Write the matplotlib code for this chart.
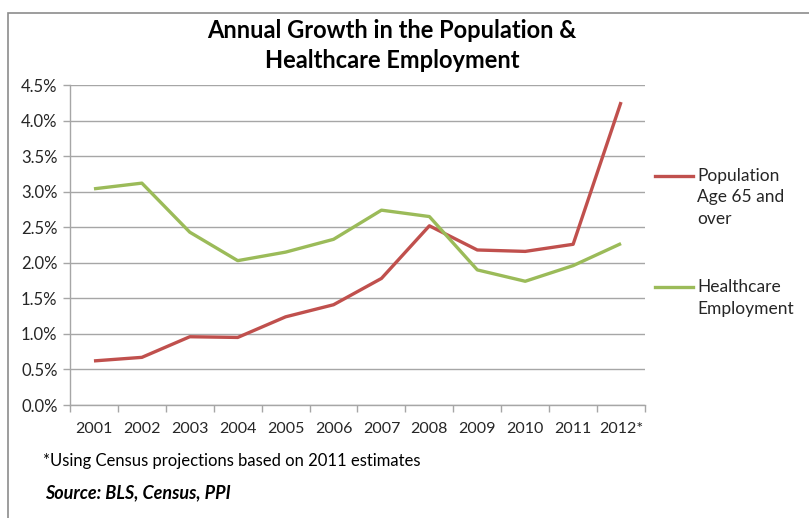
import matplotlib
matplotlib.use("Agg")
import matplotlib.pyplot as plt
from matplotlib.lines import Line2D
from matplotlib.patches import Rectangle
from matplotlib.ticker import FuncFormatter, MultipleLocator

plt.rcParams['font.family'] = ['Lato', 'DejaVu Sans']

years = ["2001", "2002", "2003", "2004", "2005", "2006", "2007", "2008",
         "2009", "2010", "2011", "2012*"]
population_65 = [0.62, 0.67, 0.96, 0.95, 1.24, 1.41, 1.78, 2.52, 2.18, 2.16, 2.26, 4.26]
healthcare_emp = [3.04, 3.12, 2.43, 2.03, 2.15, 2.33, 2.74, 2.65, 1.90, 1.74, 1.96, 2.27]

RED = "#C0504D"
GREEN = "#9BBB59"
GRID = "#A6A6A6"
TXT = "#262626"

fig = plt.figure(figsize=(8.09, 5.18), dpi=100)
W, H = 809, 518

# chart frame
fig.patches.append(Rectangle((8 / W, -0.1), 1.2, 1 - 13 / H + 0.1, transform=fig.transFigure,
                             fill=False, edgecolor="#8C8C8C", linewidth=1.2))

ax = fig.add_axes([70 / W, 1 - 405 / H, (645 - 70) / W, (405 - 85) / H])
x = list(range(len(years)))
ax.plot(x, population_65, color=RED, linewidth=2.4, solid_capstyle="butt", zorder=3)
ax.plot(x, healthcare_emp, color=GREEN, linewidth=2.4, solid_capstyle="butt", zorder=3)

ax.set_xlim(-0.5, len(years) - 0.5)
ax.set_ylim(0, 4.5)
ax.yaxis.set_major_locator(MultipleLocator(0.5))
ax.yaxis.set_major_formatter(FuncFormatter(lambda v, p: f"{v:.1f}%"))
ax.set_xticks(x)
ax.set_xticklabels(years)
ax.set_xticks([i - 0.5 for i in range(len(years) + 1)], minor=True)
ax.tick_params(axis="x", which="major", length=0, pad=12, labelsize=11.5, labelcolor=TXT)
ax.tick_params(axis="x", which="minor", length=5, color=GRID, width=1)
ax.tick_params(axis="y", which="major", length=5, color=GRID, width=1, pad=4,
               labelsize=12, labelcolor=TXT)
ax.grid(axis="y", color=GRID, linewidth=1)
ax.set_axisbelow(True)
for s in ["top", "right"]:
    ax.spines[s].set_visible(False)
for s in ["left", "bottom"]:
    ax.spines[s].set_color(GRID)
    ax.spines[s].set_linewidth(1)

fig.text(392 / W, 1 - 30 / H, "Annual Growth in the Population &", ha="center", va="center",
         fontsize=17, fontweight="bold", color="black")
fig.text(392 / W, 1 - 61 / H, "Healthcare Employment", ha="center", va="center",
         fontsize=17, fontweight="bold", color="black")

# legend
fig.add_artist(Line2D([655 / W, 693 / W], [1 - 176 / H] * 2, color=RED, linewidth=2.4))
fig.add_artist(Line2D([655 / W, 693 / W], [1 - 287 / H] * 2, color=GREEN, linewidth=2.4))
for txt, yy in [("Population", 176), ("Age 65 and", 197), ("over", 219),
                ("Healthcare", 287), ("Employment", 309)]:
    fig.text(697 / W, 1 - yy / H, txt, ha="left", va="center", fontsize=12.5, color=TXT)

fig.text(43 / W, 1 - 461 / H, "*Using Census projections based on 2011 estimates",
         ha="left", va="center", fontsize=12, color="black")
fig.text(45 / W, 1 - 493 / H, "Source: BLS, Census, PPI", ha="left", va="center",
         fontsize=13, fontweight="bold", fontstyle="italic", color="black")

fig.savefig("out.png", dpi=100)
